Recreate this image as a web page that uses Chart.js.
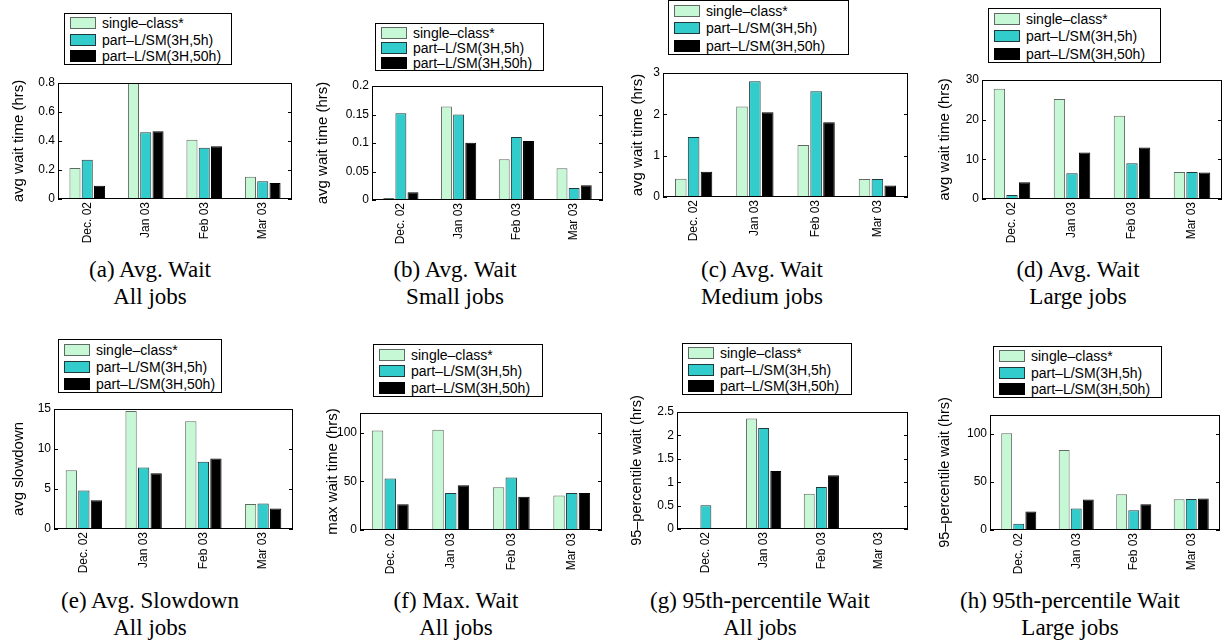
<!DOCTYPE html>
<html><head><meta charset="utf-8">
<script src="https://cdn.jsdelivr.net/npm/chart.js@4"></script>
<style>
body{margin:0;background:#fff;}
#page{position:relative;width:1225px;height:644px;overflow:hidden;background:#fff;}
canvas{position:absolute;}
.legend{position:absolute;border:1px solid #000;box-sizing:border-box;background:#fff;font-family:'Liberation Sans',Arial,sans-serif;font-size:14px;color:#000;}
.legend .row{position:absolute;left:0;right:0;height:16px;line-height:16px;white-space:nowrap;}
.legend .sw{position:absolute;left:5px;top:2px;width:26px;height:12px;box-sizing:border-box;border:1px solid;}
.legend .tx{position:absolute;left:37px;top:0;}
.cap{position:absolute;font-family:'Liberation Serif','Times New Roman',serif;font-size:23px;line-height:27px;text-align:center;white-space:nowrap;transform:translateX(-50%);color:#000;}
</style></head><body><div id="page"></div>
<script>
// ---------- DATA ----------
const months = ['Dec. 02', 'Jan 03', 'Feb 03', 'Mar 03'];
const seriesNames = ['single\u2013class*', 'part\u2013L/SM(3H,5h)', 'part\u2013L/SM(3H,50h)'];

// (a) Avg. Wait, All jobs
const avgWaitAll_single = [0.214, 0.80, 0.409, 0.154];
const avgWaitAll_part5  = [0.271, 0.46, 0.354, 0.122];
const avgWaitAll_part50 = [0.092, 0.467, 0.363, 0.110];
// (b) Avg. Wait, Small jobs
const avgWaitSmall_single = [0.0035, 0.164, 0.0713, 0.0556];
const avgWaitSmall_part5  = [0.152, 0.150, 0.1105, 0.021];
const avgWaitSmall_part50 = [0.0135, 0.1006, 0.1035, 0.0257];
// (c) Avg. Wait, Medium jobs
const avgWaitMed_single = [0.44, 2.19, 1.26, 0.435];
const avgWaitMed_part5  = [1.45, 2.80, 2.56, 0.435];
const avgWaitMed_part50 = [0.61, 2.05, 1.81, 0.28];
// (d) Avg. Wait, Large jobs
const avgWaitLarge_single = [27.8, 25.2, 21.0, 6.8];
const avgWaitLarge_part5  = [1.0, 6.5, 9.0, 6.8];
const avgWaitLarge_part50 = [4.2, 11.7, 13.0, 6.7];
// (e) Avg. Slowdown, All jobs
const slowAll_single = [7.35, 14.75, 13.46, 3.13];
const slowAll_part5  = [4.8, 7.69, 8.4, 3.18];
const slowAll_part50 = [3.6, 6.98, 8.82, 2.55];
// (f) Max. Wait, All jobs
const maxWaitAll_single = [102, 102.7, 43.8, 35.3];
const maxWaitAll_part5  = [52.7, 38, 53.8, 38];
const maxWaitAll_part50 = [26.4, 45.9, 34.2, 38];
// (g) 95th-percentile Wait, All jobs
const p95All_single = [0, 2.36, 0.755, 0];
const p95All_part5  = [0.506, 2.16, 0.897, 0];
const p95All_part50 = [0, 1.24, 1.147, 0];
// (h) 95th-percentile Wait, Large jobs
const p95Large_single = [101, 83.4, 37.2, 32.1];
const p95Large_part5  = [6.6, 22.4, 20.7, 32.4];
const p95Large_part50 = [19.3, 31.7, 26.9, 32.8];

// y tick values
const ticksA = [0, 0.2, 0.4, 0.6, 0.8];
const ticksB = [0, 0.05, 0.1, 0.15, 0.2];
const ticksC = [0, 1, 2, 3];
const ticksD = [0, 10, 20, 30];
const ticksE = [0, 5, 10, 15];
const ticksF = [0, 50, 100];
const ticksG = [0, 0.5, 1, 1.5, 2, 2.5];
const ticksH = [0, 50, 100];
const yMaxes = [0.8, 0.2, 3, 30, 15, 120, 2.5, 120];

const yTitles = ['avg wait time (hrs)', 'avg wait time (hrs)', 'avg wait time (hrs)', 'avg wait time (hrs)',
  'avg slowdown', 'max wait time (hrs)', '95\u2013percentile wait (hrs)', '95\u2013percentile wait (hrs)'];
const captions = [
  ['(a) Avg. Wait', 'All jobs'], ['(b) Avg. Wait', 'Small jobs'], ['(c) Avg. Wait', 'Medium jobs'], ['(d) Avg. Wait', 'Large jobs'],
  ['(e) Avg. Slowdown', 'All jobs'], ['(f) Max. Wait', 'All jobs'], ['(g) 95th-percentile Wait', 'All jobs'], ['(h) 95th-percentile Wait', 'Large jobs']];

const panelSeries = [
  [avgWaitAll_single, avgWaitAll_part5, avgWaitAll_part50],
  [avgWaitSmall_single, avgWaitSmall_part5, avgWaitSmall_part50],
  [avgWaitMed_single, avgWaitMed_part5, avgWaitMed_part50],
  [avgWaitLarge_single, avgWaitLarge_part5, avgWaitLarge_part50],
  [slowAll_single, slowAll_part5, slowAll_part50],
  [maxWaitAll_single, maxWaitAll_part5, maxWaitAll_part50],
  [p95All_single, p95All_part5, p95All_part50],
  [p95Large_single, p95Large_part5, p95Large_part50]];
const panelTicks = [ticksA, ticksB, ticksC, ticksD, ticksE, ticksF, ticksG, ticksH];

// ---------- LAYOUT / STYLE ----------
const fills = ['#C6F8D5', '#33CCCC', '#000000'];
const strokes = ['#5f6a62', '#1f3a3a', '#000000'];
const SANS = "'Liberation Sans', Arial, Helvetica, sans-serif";
// plot rect x0,y0,x1,y1 ; yAxis width ; legend box ; caption centre x ; title size
const layout = [
  {x0: 58, y0: 83, x1: 292, y1: 199, L: 52, lg: [64, 13, 232, 65], cx: 150, cy: 256, ts: 15},
  {x0: 372, y0: 86, x1: 603, y1: 200, L: 62, lg: [375, 23, 544, 71], cx: 455, cy: 256, ts: 15},
  {x0: 663, y0: 73, x1: 908, y1: 197, L: 38, lg: [668, 0, 849, 55], cx: 762, cy: 256, ts: 15},
  {x0: 982, y0: 80, x1: 1222, y1: 199, L: 50, lg: [988, 8, 1161, 63], cx: 1078, cy: 256, ts: 15},
  {x0: 54, y0: 409, x1: 293, y1: 529, L: 48, lg: [58, 339, 222, 393], cx: 150, cy: 587, ts: 15},
  {x0: 360, y0: 413, x1: 602, y1: 530, L: 40, lg: [373, 344, 543, 397], cx: 456, cy: 587, ts: 15},
  {x0: 677, y0: 412, x1: 908, y1: 529, L: 53, lg: [682, 343, 852, 395], cx: 760, cy: 587, ts: 14.5},
  {x0: 990, y0: 415, x1: 1220, y1: 530, L: 58, lg: [993, 346, 1162, 398], cx: 1070, cy: 587, ts: 14.5}];

const page = document.getElementById('page');
const fmt = v => String(Math.round(v * 10000) / 10000);

const boxPlugin = {
  id: 'axbox',
  afterDraw(chart) {
    const {ctx, chartArea: a} = chart;
    ctx.save();
    ctx.strokeStyle = '#000';
    ctx.lineWidth = 1;
    ctx.strokeRect(a.left + 0.5, a.top + 0.5, a.right - a.left - 1, a.bottom - a.top - 1);
    const ys = chart.scales.y;
    ctx.beginPath();
    ys.ticks.forEach(t => {
      const py = Math.round(ys.getPixelForValue(t.value)) + 0.5;
      ctx.moveTo(a.left, py); ctx.lineTo(a.left + 4, py);
      ctx.moveTo(a.right, py); ctx.lineTo(a.right - 4, py);
    });
    ctx.stroke();
    ctx.restore();
  }
};

function makeLegend(p) {
  const [lx0, ly0, lx1, ly1] = p.lg;
  const d = document.createElement('div');
  d.className = 'legend';
  d.style.left = lx0 + 'px'; d.style.top = ly0 + 'px';
  d.style.width = (lx1 - lx0) + 'px'; d.style.height = (ly1 - ly0) + 'px';
  const h = ly1 - ly0;
  const fr = [0.2, 0.515, 0.83];
  seriesNames.forEach((name, i) => {
    const r = document.createElement('div');
    r.className = 'row';
    r.style.top = (h * fr[i] - 8 - 1) + 'px';
    const sw = document.createElement('div');
    sw.className = 'sw';
    sw.style.background = fills[i]; sw.style.borderColor = strokes[i];
    const tx = document.createElement('span');
    tx.className = 'tx'; tx.textContent = name;
    r.appendChild(sw); r.appendChild(tx);
    d.appendChild(r);
  });
  page.appendChild(d);
}

function makeCaption(p, lines) {
  const d = document.createElement('div');
  d.className = 'cap';
  d.style.left = p.cx + 'px'; d.style.top = p.cy + 'px';
  d.innerHTML = lines.map(s => s.replace(/&/g, '&amp;')).join('<br>');
  page.appendChild(d);
}

function makePanel(idx) {
  const p = layout[idx];
  const L = p.L, T = 30, R = 4, B = 50;
  const w = p.x1 - p.x0, h = p.y1 - p.y0;
  const c = document.createElement('canvas');
  c.width = w + L + R; c.height = h + T + B;
  c.style.width = c.width + 'px'; c.style.height = c.height + 'px';
  c.style.left = (p.x0 - L) + 'px'; c.style.top = (p.y0 - T) + 'px';
  page.appendChild(c);
  const tv = panelTicks[idx];
  new Chart(c, {
    type: 'bar',
    data: {
      labels: months,
      datasets: panelSeries[idx].map((arr, i) => ({
        label: seriesNames[i], data: arr,
        backgroundColor: fills[i], borderColor: strokes[i], borderWidth: 1,
        categoryPercentage: 0.63, barPercentage: 0.9
      }))
    },
    options: {
      responsive: false, animation: false, devicePixelRatio: 1,
      layout: {padding: {top: T, right: R, left: 0, bottom: 0}},
      plugins: {legend: {display: false}, tooltip: {enabled: false}},
      scales: {
        x: {
          grid: {display: false, drawTicks: false}, border: {display: false},
          ticks: {autoSkip: false, minRotation: 90, maxRotation: 90, padding: 3, color: '#000', font: {size: 12, family: SANS}},
          afterFit(s) { s.height = B; }
        },
        y: {
          min: 0, max: yMaxes[idx],
          grid: {display: false, drawTicks: false}, border: {display: false},
          ticks: {padding: 3, color: '#000', font: {size: 12, family: SANS}, callback: v => fmt(v)},
          afterBuildTicks(s) { s.ticks = tv.map(v => ({value: v})); },
          afterFit(s) { s.width = L; },
          title: {display: true, text: yTitles[idx], color: '#000', font: {size: p.ts, family: SANS}, padding: {top: 4, bottom: 4}}
        }
      }
    },
    plugins: [boxPlugin]
  });
  makeLegend(p);
  makeCaption(p, captions[idx]);
}

for (let i = 0; i < 8; i++) makePanel(i);
</script></body></html>
